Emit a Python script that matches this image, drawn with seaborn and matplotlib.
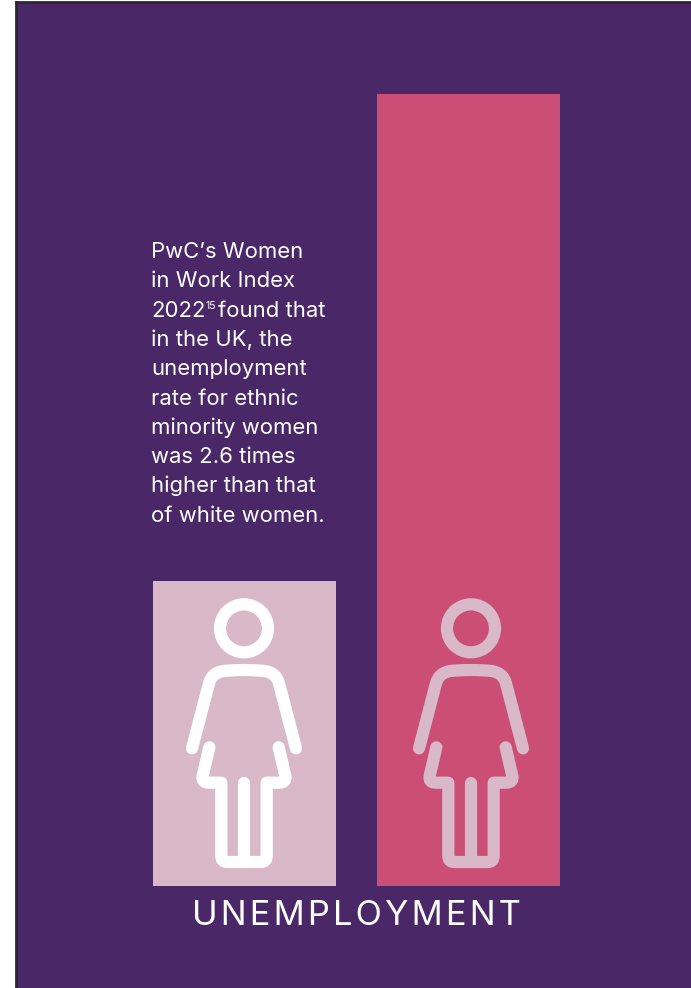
import matplotlib
matplotlib.use("Agg")
import matplotlib.pyplot as plt
from matplotlib.path import Path
from matplotlib.patches import PathPatch, Circle
from matplotlib.transforms import Affine2D
import seaborn as sns
import pandas as pd

groups = ["White women", "Ethnic minority women"]
unemployment_ratio = [1.0, 2.6]
bar_colors = ["#D9B8C7", "#CA4E76"]
icon_colors = ["#FFFFFF", "#D9B8C7"]
axis_title = "U\u200aN\u200aE\u200aM\u200aP\u200aL\u200aO\u200aY\u200aM\u200aE\u200aN\u200aT"
note_lines = ["PwC\u2019s Women", "in Work Index", "2022", "in the UK, the", "unemployment",
              "rate for ethnic", "minority women", "was 2.6 times", "higher than that",
              "of white women."]
footnote_mark = "15"
footnote_tail = "found that"

PURPLE = "#4A2868"
W, H = 691, 988
NOTE_SIZE = 15.9

sns.set_theme(style="white")
plt.rcParams["font.family"] = ["Inter", "DejaVu Sans"]

fig = plt.figure(figsize=(W / 100, H / 100), dpi=100, facecolor="white")
ax = fig.add_axes([16 / W, 0, (W - 16) / W, (H - 2) / H], facecolor=PURPLE)

frame = pd.DataFrame({"group": groups, "ratio": unemployment_ratio})
sns.barplot(data=frame, x="group", y="ratio", hue="group", palette=bar_colors,
            order=groups, hue_order=groups, legend=False, width=183 / 224,
            saturation=1, linewidth=0, ax=ax)

# One category step is 224 px and one unit of the ratio is 304.6 px.
ax.set_xlim(-(244.5 - 16) / 224, (691 - 244.5) / 224)
ax.set_ylim(-(988 - 886) / 304.6, (886 - 2) / 304.6)
ax.set_xticks([])
ax.set_yticks([])
ax.set_ylabel("")
ax.set_xlabel("")
for side in ("right", "bottom"):
    ax.spines[side].set_visible(False)
for side in ("left", "top"):
    ax.spines[side].set_color("#2C2630")
    ax.spines[side].set_linewidth(2)


def person_icon(transform, color):
    """Outline figure of a woman, sized in a 3-per-pixel grid around the head axis."""
    lw = 12.2 * 72 / 100
    style = dict(fill=False, edgecolor=color, linewidth=lw, capstyle="round",
                 joinstyle="round", transform=transform, clip_on=False)
    ax.add_patch(Circle((0, 175), 72, **style))
    body = Path(
        [(-156, 535), (-105, 340), (-97, 308), (-62, 303), (-35, 300), (0, 300),
         (35, 300), (62, 303), (97, 308), (105, 340), (156, 535)],
        [Path.MOVETO, Path.LINETO, Path.CURVE3, Path.CURVE3, Path.CURVE3, Path.CURVE3,
         Path.CURVE3, Path.CURVE3, Path.CURVE3, Path.CURVE3, Path.LINETO],
    )
    ax.add_patch(PathPatch(body, **style))
    dress = Path(
        [(-104, 532), (-124, 618), (-128, 638), (-105, 638), (-68, 638), (-68, 858), (-68, 876),
         (-50, 876), (50, 876), (68, 876), (68, 858), (68, 638), (105, 638), (128, 638),
         (124, 618), (104, 532)],
        [Path.MOVETO, Path.LINETO, Path.CURVE3, Path.CURVE3, Path.LINETO, Path.LINETO,
         Path.CURVE3, Path.CURVE3, Path.LINETO, Path.CURVE3, Path.CURVE3, Path.LINETO,
         Path.LINETO, Path.CURVE3, Path.CURVE3, Path.LINETO],
    )
    ax.add_patch(PathPatch(dress, **style))
    ax.add_patch(PathPatch(Path([(0, 638), (0, 876)]), **style))


fig.canvas.draw()
icon_shift = [-0.5, 2.5]
for patch, color, shift in zip(list(ax.patches), icon_colors, icon_shift):
    box = patch.get_window_extent()
    cx = (box.x0 + box.x1) / 2 + shift
    tr = Affine2D().scale(1 / 3, -1 / 3).translate(cx, box.y0 + 948 / 3)
    person_icon(tr, color)

# Note beside the taller bar, one text per line at a fixed leading.
px = Affine2D().scale(1, -1).translate(0, H)
renderer = fig.canvas.get_renderer()
for i, line in enumerate(note_lines):
    base = 258 + i * 29.3
    t = fig.text(151, base, line, transform=px, fontsize=NOTE_SIZE, color="white", va="baseline")
    if i == 2:
        end = t.get_window_extent(renderer).x1
        s = fig.text(end + 0.5, base - 8, footnote_mark, transform=px, fontsize=7.5, color="white",
                     va="baseline")
        end = s.get_window_extent(renderer).x1
        fig.text(end + 2, base, footnote_tail, transform=px, fontsize=NOTE_SIZE, color="white",
                 va="baseline")

fig.text(356.5, 925, axis_title, transform=px, ha="center", va="baseline", fontsize=24.8, color="white")

fig.savefig("out.png", dpi=100, facecolor="white")
